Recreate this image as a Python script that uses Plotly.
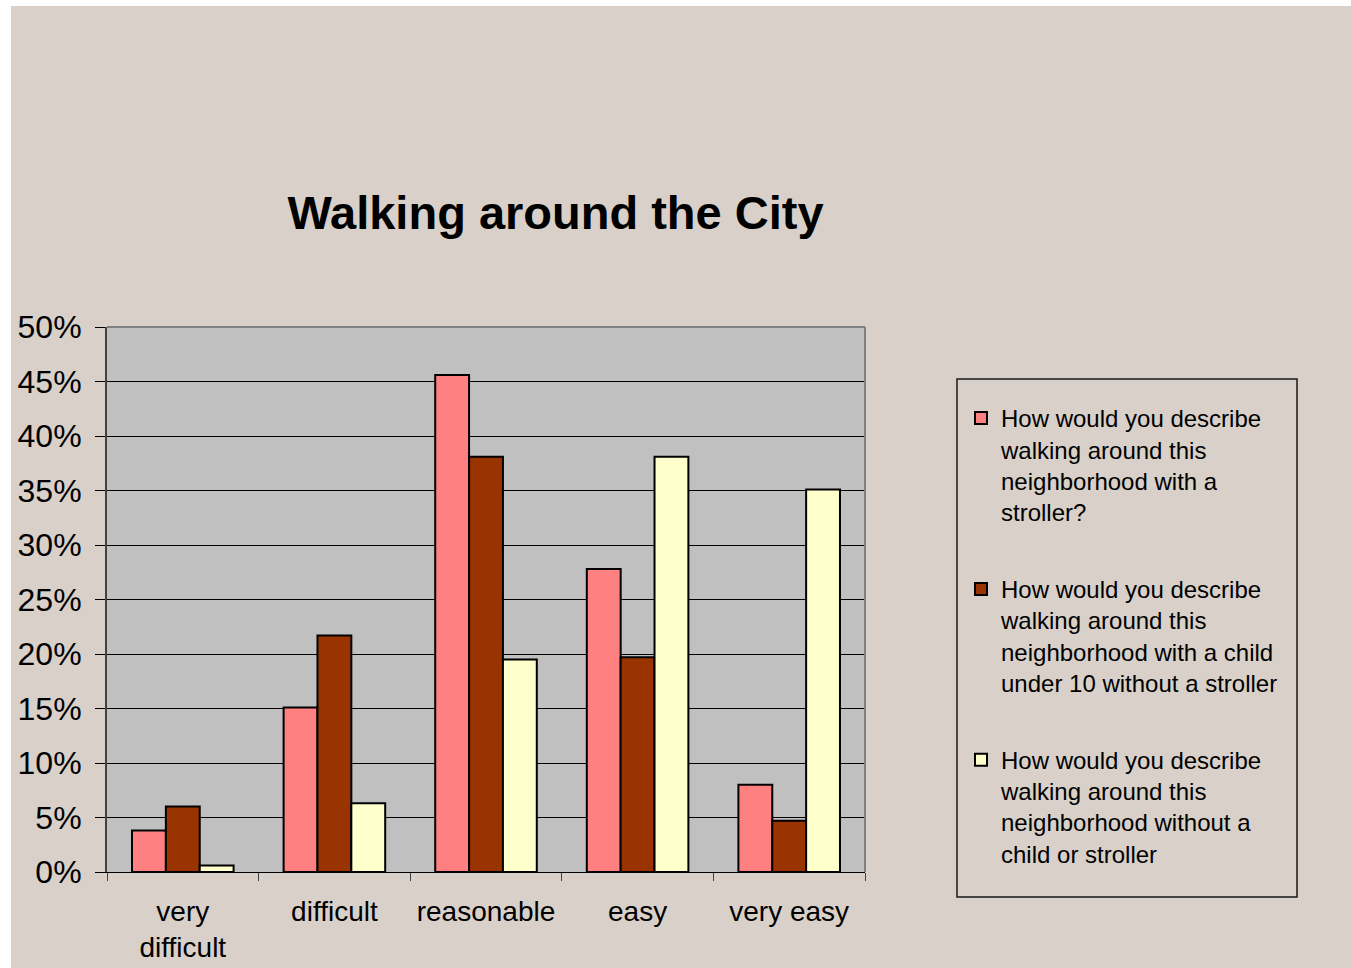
import plotly.graph_objects as go

categories = ["very<br>difficult", "difficult", "reasonable", "easy", "very easy"]
series_names = [
    "How would you describe<br>walking around this<br>neighborhood with a<br>stroller?",
    "How would you describe<br>walking around this<br>neighborhood with a child<br>under 10 without a stroller",
    "How would you describe<br>walking around this<br>neighborhood without a<br>child or stroller",
]
stroller = [0.038, 0.151, 0.456, 0.278, 0.080]
child_no_stroller = [0.060, 0.217, 0.381, 0.197, 0.047]
no_child = [0.006, 0.063, 0.195, 0.381, 0.351]
colors = ["#FF8080", "#993300", "#FFFFCC"]

W, H = 1351, 968
L, R, T, B = 107, 865, 327, 872
pw, ph = R - L, B - T

def px(x):
    return (x - L) / pw

def py(y):
    return (B - y) / ph

FONT = "Liberation Sans, Arial, sans-serif"
BEIGE = "#D8D0C9"

fig = go.Figure()
for name, vals, col, g in zip(series_names, [stroller, child_no_stroller, no_child], colors, ["a", "b", "c"]):
    fig.add_trace(go.Bar(
        x=categories, y=vals, name=name, legendgroup=g,
        marker=dict(color=col, line=dict(color="black", width=2)),
    ))

fig.update_layout(
    width=W, height=H,
    autosize=False,
    margin=dict(l=L, r=W - R, t=T, b=H - B, pad=0, autoexpand=False),
    paper_bgcolor=BEIGE,
    plot_bgcolor="#C0C0C0",
    barmode="group",
    bargap=0.33,
    bargroupgap=0,
    font=dict(family=FONT, color="black"),
    title=dict(
        text="<b>Walking around the City</b>",
        font=dict(size=47, family=FONT, color="black"),
        x=555.5 / W, xanchor="center",
        y=1 - 213 / H, yanchor="middle",
    ),
    showlegend=True,
    legend=dict(
        x=px(961), xanchor="left",
        y=py(396), yanchor="top",
        bgcolor="rgba(0,0,0,0)",
        borderwidth=0,
        font=dict(size=24, family=FONT, color="black"),
        valign="top",
        tracegroupgap=43,
        traceorder="grouped",
    ),
    xaxis=dict(
        type="category",
        tickson="boundaries",
        ticks="outside", ticklen=8, tickcolor="#404040", tickwidth=1,
        showline=True, linecolor="black", linewidth=1,
        showgrid=False,
        automargin=False,
        tickfont=dict(size=28, family=FONT, color="black"),
        ticklabelstandoff=14,
    ),
    yaxis=dict(
        range=[0, 0.5], dtick=0.05, tickformat=".0%",
        ticks="outside", ticklen=10, tickcolor="black", tickwidth=1,
        showline=True, linecolor="#404040", linewidth=2,
        showgrid=True, gridcolor="black", gridwidth=1,
        zeroline=False,
        automargin=False,
        tickfont=dict(size=32, family=FONT, color="black"),
        ticklabelstandoff=7,
    ),
    shapes=[
        # white page border strips
        dict(type="rect", xref="paper", yref="paper", x0=px(0), x1=px(11), y0=py(H), y1=py(0),
             fillcolor="white", line=dict(width=0), layer="below"),
        dict(type="rect", xref="paper", yref="paper", x0=px(0), x1=px(W), y0=py(6), y1=py(0),
             fillcolor="white", line=dict(width=0), layer="below"),
        # plot frame top/right
        dict(type="line", xref="paper", yref="paper", x0=0, x1=1, y0=1, y1=1,
             line=dict(color="#808080", width=2)),
        dict(type="line", xref="paper", yref="paper", x0=1, x1=1, y0=0, y1=1,
             line=dict(color="#808080", width=2)),
        # legend box
        dict(type="rect", xref="paper", yref="paper", x0=px(957), x1=px(1297), y0=py(897), y1=py(379),
             fillcolor="rgba(0,0,0,0)", line=dict(color="#1a1a1a", width=1.5)),
    ],
)

fig.write_html(
    "out.html",
    config={"displayModeBar": False},
    post_script="document.body.style.margin='0';document.body.style.overflow='hidden';",
)
